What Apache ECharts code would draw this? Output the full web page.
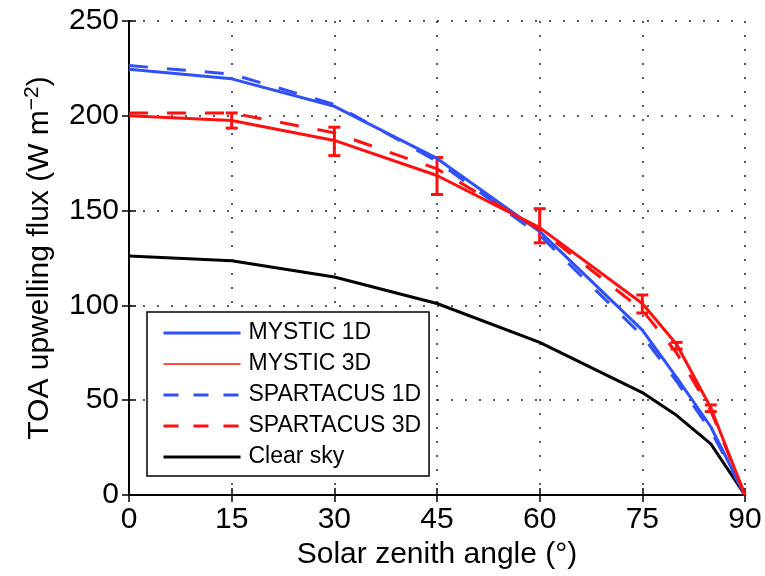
<!DOCTYPE html>
<html>
<head>
<meta charset="utf-8">
<script src="https://cdn.jsdelivr.net/npm/echarts@6/dist/echarts.min.js"></script>
<style>
  html, body { margin: 0; padding: 0; background: #fff; }
  #chart { width: 765px; height: 576px; }
</style>
</head>
<body>
<div id="chart"></div>
<script>
// Solar zenith angles (deg)
const angles = [0, 15, 30, 45, 60, 75, 80, 85, 90]
const mystic1D = [224.5, 219.5, 205, 177.5, 139, 87, 62, 36, 0]
const mystic3D = [200, 197.5, 187, 168.5, 141, 101, 79.5, 46, 0]
const spartacus1D = [226.5, 222, 206, 176, 137, 84, 60, 34, 0]
const spartacus3D = [201.5, 201.5, 191, 172, 140, 97.5, 75, 44.5, 0]
const clearSky = [126, 123.5, 115, 101, 80.5, 54, 42, 27, 0]

// MYSTIC 3D error bars
const errAngles = [15, 30, 45, 60, 75, 80, 85]
const errLow = [193.5, 179, 158.5, 133, 96, 77, 44]
const errHigh = [201.5, 194, 178, 151, 105.5, 80.5, 47.5]

const xTicks = [0, 15, 30, 45, 60, 75, 90]

const BLUE = '#3050f8'
const RED = '#ff1010'
const FONT = 'Liberation Sans'

const pair = ys => angles.map((a, i) => [a, ys[i]])

function lineSeries(name, ys, color, type) {
  return {
    name,
    type: 'line',
    data: pair(ys),
    symbol: 'circle',
    showSymbol: false,
    lineStyle: { color, width: 3, type },
    itemStyle: { color },
    silent: true,
    animation: false
  }
}

const gridLine = { show: true, lineStyle: { color: '#222', width: 1.5, type: [2, 12] } }

const chart = echarts.init(document.getElementById('chart'), null, { renderer: 'canvas' })

chart.setOption({
  backgroundColor: '#fff',
  animation: false,
  grid: { left: 129, right: 20, top: 21, bottom: 81 },
  legend: {
    data: [
      { name: 'MYSTIC 1D', lineStyle: { width: 3 } },
      { name: 'MYSTIC 3D', lineStyle: { width: 1.5 } },
      { name: 'SPARTACUS 1D', lineStyle: { width: 3, type: [15, 15] } },
      { name: 'SPARTACUS 3D', lineStyle: { width: 3, type: [15, 15] } },
      { name: 'Clear sky', lineStyle: { width: 3 } }
    ],
    orient: 'vertical',
    left: 147,
    top: 312,
    padding: [9, 8, 7, 15],
    itemWidth: 77,
    itemHeight: 14,
    itemGap: 7,
    itemStyle: { opacity: 0 },
    lineStyle: { width: 3 },
    borderColor: '#000',
    borderWidth: 1.5,
    borderRadius: 0,
    backgroundColor: '#fff',
    selectedMode: false,
    textStyle: { fontFamily: FONT, fontSize: 23, color: '#000', lineHeight: 24, padding: [0, 0, 0, 3] }
  },
  xAxis: [{
    type: 'value', min: 0, max: 90, interval: 15,
    name: 'Solar zenith angle (°)', nameLocation: 'middle', nameGap: 43,
    nameTextStyle: { fontFamily: FONT, fontSize: 30, color: '#000' },
    axisLine: { lineStyle: { color: '#000', width: 2 } },
    axisTick: { inside: true, length: 7, lineStyle: { color: '#000', width: 1.5 } },
    axisLabel: { fontFamily: FONT, fontSize: 30, color: '#000', margin: 10,
      customValues: xTicks },
    splitLine: gridLine
  }, {
    type: 'value', min: 0, max: 90, interval: 15, position: 'top',
    axisLine: { lineStyle: { color: '#000', width: 2 } },
    axisTick: { inside: true, length: 7, lineStyle: { color: '#000', width: 1.5 } },
    axisLabel: { show: false }, splitLine: { show: false }
  }],
  yAxis: [{
    type: 'value', min: 0, max: 250, interval: 50,
    name: '{a|TOA upwelling flux (W m}{s|−2}{a|)}', nameLocation: 'middle', nameGap: 72,
    nameTextStyle: {
      rich: {
        a: { fontFamily: FONT, fontSize: 30, color: '#000' },
        s: { fontFamily: FONT, fontSize: 21, color: '#000', verticalAlign: 'bottom', padding: [0, 0, 14, 0] }
      }
    },
    axisLine: { lineStyle: { color: '#000', width: 2 } },
    axisTick: { inside: true, length: 7, lineStyle: { color: '#000', width: 1.5 } },
    axisLabel: { fontFamily: FONT, fontSize: 30, color: '#000', margin: 10 },
    splitLine: gridLine
  }, {
    type: 'value', min: 0, max: 250, interval: 50, position: 'right',
    axisLine: { show: true, lineStyle: { color: '#000', width: 2 } },
    axisTick: { show: true, inside: true, length: 7, lineStyle: { color: '#000', width: 1.5 } },
    axisLabel: { show: false }, splitLine: { show: false }
  }],
  series: [
    lineSeries('Clear sky', clearSky, '#000', 'solid'),
    lineSeries('MYSTIC 1D', mystic1D, BLUE, 'solid'),
    lineSeries('SPARTACUS 1D', spartacus1D, BLUE, [19, 19]),
    lineSeries('SPARTACUS 3D', spartacus3D, RED, [19, 19]),
    lineSeries('MYSTIC 3D', mystic3D, RED, 'solid'),
    {
      name: 'err',
      type: 'custom',
      silent: true,
      data: errAngles.map((a, i) => [a, errLow[i], errHigh[i]]),
      encode: { x: 0, y: [1, 2] },
      renderItem(params, api) {
        const lo = api.coord([api.value(0), api.value(1)])
        const hi = api.coord([api.value(0), api.value(2)])
        const w = 6
        const st = { stroke: RED, lineWidth: 3 }
        return {
          type: 'group',
          children: [
            { type: 'line', shape: { x1: lo[0], y1: lo[1], x2: hi[0], y2: hi[1] }, style: st },
            { type: 'line', shape: { x1: lo[0] - w, y1: lo[1], x2: lo[0] + w, y2: lo[1] }, style: st },
            { type: 'line', shape: { x1: hi[0] - w, y1: hi[1], x2: hi[0] + w, y2: hi[1] }, style: st }
          ]
        }
      }
    }
  ]
})
</script>
</body>
</html>
